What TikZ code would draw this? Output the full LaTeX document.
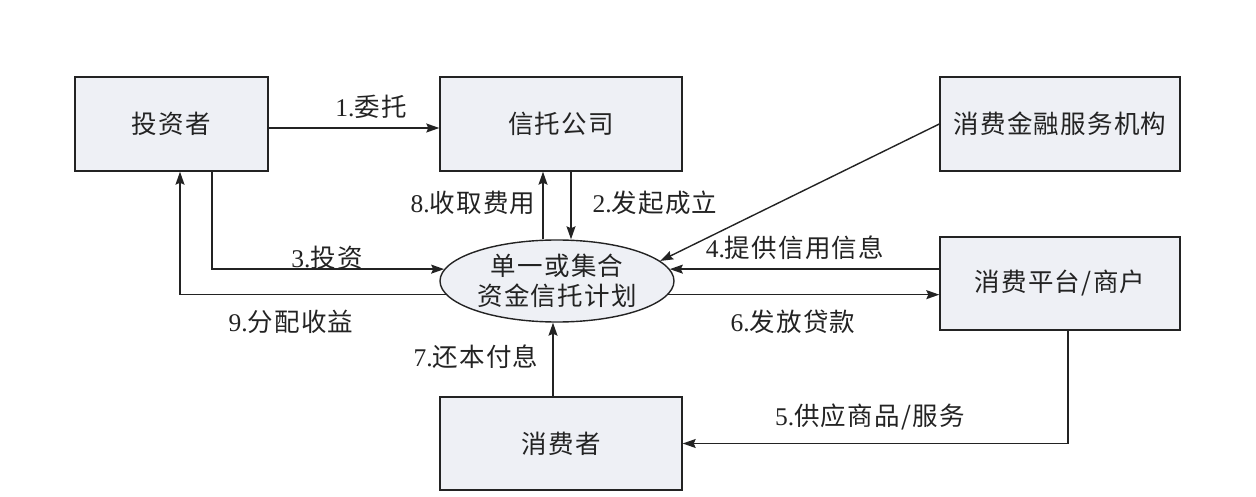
\documentclass[tikz,border=0pt]{standalone}
\usepackage{fontspec}
\setmainfont{Liberation Serif}
\newfontfamily\cjk[LetterSpace=5]{Noto Sans CJK SC}
\usetikzlibrary{arrows.meta,shapes.geometric,calc}
\definecolor{linec}{RGB}{35,35,35}
\definecolor{boxfill}{RGB}{238,240,245}
\begin{document}
\begin{tikzpicture}[x=1pt,y=-1pt,
  txt/.style={font=\fontsize{25.5}{30}\selectfont, text=linec},
  box/.style={txt, draw=linec, line width=1.4pt, fill=boxfill, inner sep=0pt, minimum height=94pt},
  plan/.style={txt, ellipse, draw=linec, line width=1.4pt, fill=boxfill, inner sep=0pt, minimum width=234pt, minimum height=82pt, align=center},
  arr/.style={draw=linec, line width=1.4pt, -{Stealth[length=13pt,width=9pt,inset=2pt]}},
  lab/.style={txt, inner sep=0pt}]
\useasboundingbox (0,0) rectangle (1256,497);
\node[box, minimum width=193pt] (inv) at (171.5,124) {\cjk 投资者};
\node[box, minimum width=242pt] (trust) at (561,124) {\cjk 信托公司};
\node[box, minimum width=240pt] (fin) at (1060,124) {\cjk 消费金融服务机构};
\node[box, minimum width=240pt, minimum height=93pt] (plat) at (1060,283.5) {\cjk 消费平台/商户};
\node[box, minimum width=242pt, minimum height=93pt] (cons) at (561,443.5) {\cjk 消费者};
\node[plan] (plan) at (557,281) {\cjk 单一或集合\\\cjk 资金信托计划};
\coordinate (x8) at (543,0);
\coordinate (x2) at (571,0);
\coordinate (x7) at (553,0);
\coordinate (x3) at (212,0);
\coordinate (x9) at (180,0);
\coordinate (x5) at (1068,0);
\draw[arr] ([yshift=-4pt]inv.east) -- ([yshift=-4pt]trust.west);
\draw[arr] (plan.north -| x8) -- (trust.south -| x8);
\draw[arr] (trust.south -| x2) -- (plan.north -| x2);
\draw[arr] (cons.north -| x7) -- (plan.south -| x7);
\draw[arr] (fin.west) -- (plan.11);
\draw[arr] (plat.west |- plan.6.7) -- (plan.6.7);
\draw[arr] (plan.-7.8) -- (plat.west |- plan.-7.8);
\draw[arr] (inv.south -| x3) |- (plan.174.4);
\draw[arr] (plan.187.3) -| (inv.south -| x9);
\draw[arr] (plat.south -| x5) |- (cons.east);
\node[lab] (l1) at (371,107) {1.\cjk 委托};
\node[lab] (l8) at (473,203) {8.\cjk 收取费用};
\node[lab] (l2) at (655,203) {2.\cjk 发起成立};
\node[lab] (l4) at (795,248) {4.\cjk 提供信用信息};
\node[lab] (l3) at (327,258) {3.\cjk 投资};
\node[lab] (l9) at (291,322) {9.\cjk 分配收益};
\node[lab] (l6) at (793,322) {6.\cjk 发放贷款};
\node[lab] (l7) at (476,357) {7.\cjk 还本付息};
\node[lab] (l5) at (870,417) {5.\cjk 供应商品/服务};
\end{tikzpicture}
\end{document}
